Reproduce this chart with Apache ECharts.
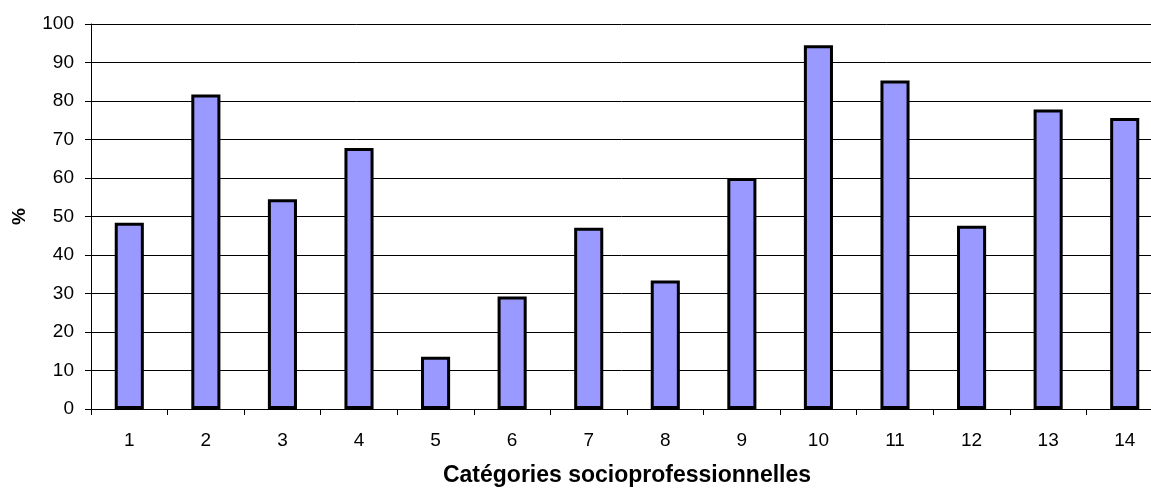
<!DOCTYPE html>
<html>
<head>
<meta charset="utf-8">
<script src="https://cdn.jsdelivr.net/npm/echarts@6/dist/echarts.min.js"></script>
<style>
html,body{margin:0;padding:0;background:#fff;}
#chart{width:1151px;height:489px;}
</style>
</head>
<body>
<div id="chart"></div>
<script>
const categories = ['1','2','3','4','5','6','7','8','9','10','11','12','13','14'];
const values = [48.4, 81.7, 54.5, 67.8, 13.6, 29.2, 47.1, 33.4, 60.0, 94.5, 85.3, 47.6, 77.8, 75.6];
const yTicks = [0, 10, 20, 30, 40, 50, 60, 70, 80, 90, 100];
const xTitle = 'Catégories socioprofessionnelles';
const yTitle = '%';

const chart = echarts.init(document.getElementById('chart'), null, {renderer: 'canvas'});
const font = '"Liberation Sans", Arial, sans-serif';
chart.setOption({
  animation: false,
  backgroundColor: '#ffffff',
  grid: {left: 91, top: 24, width: 1072, height: 385, containLabel: false, outerBoundsMode: 'none'},
  xAxis: {
    type: 'category',
    data: categories,
    boundaryGap: true,
    name: xTitle,
    nameLocation: 'middle',
    nameGap: 55,
    nameTextStyle: {fontFamily: font, fontSize: 23, fontWeight: 'bold', color: '#000'},
    axisLine: {show: true, lineStyle: {color: '#000', width: 1}},
    axisTick: {show: true, length: 6, lineStyle: {color: '#000'}},
    axisLabel: {fontFamily: font, fontSize: 19, color: '#000', margin: 22}
  },
  yAxis: {
    type: 'value',
    min: yTicks[0],
    max: yTicks[yTicks.length - 1],
    interval: yTicks[1] - yTicks[0],
    name: yTitle,
    nameLocation: 'middle',
    nameGap: 62,
    nameRotate: 90,
    nameTextStyle: {fontFamily: font, fontSize: 19, fontWeight: 'bold', color: '#000'},
    axisLine: {show: true, lineStyle: {color: '#000', width: 1}},
    axisTick: {show: true, length: 6, lineStyle: {color: '#000'}},
    axisLabel: {fontFamily: font, fontSize: 19, color: '#000', margin: 17},
    splitLine: {show: true, lineStyle: {color: '#000', width: 1}}
  },
  series: [{
    type: 'bar',
    data: values,
    barWidth: '38%',
    itemStyle: {color: '#9999FF', borderColor: '#000', borderWidth: 3}
  }]
});
</script>
</body>
</html>
